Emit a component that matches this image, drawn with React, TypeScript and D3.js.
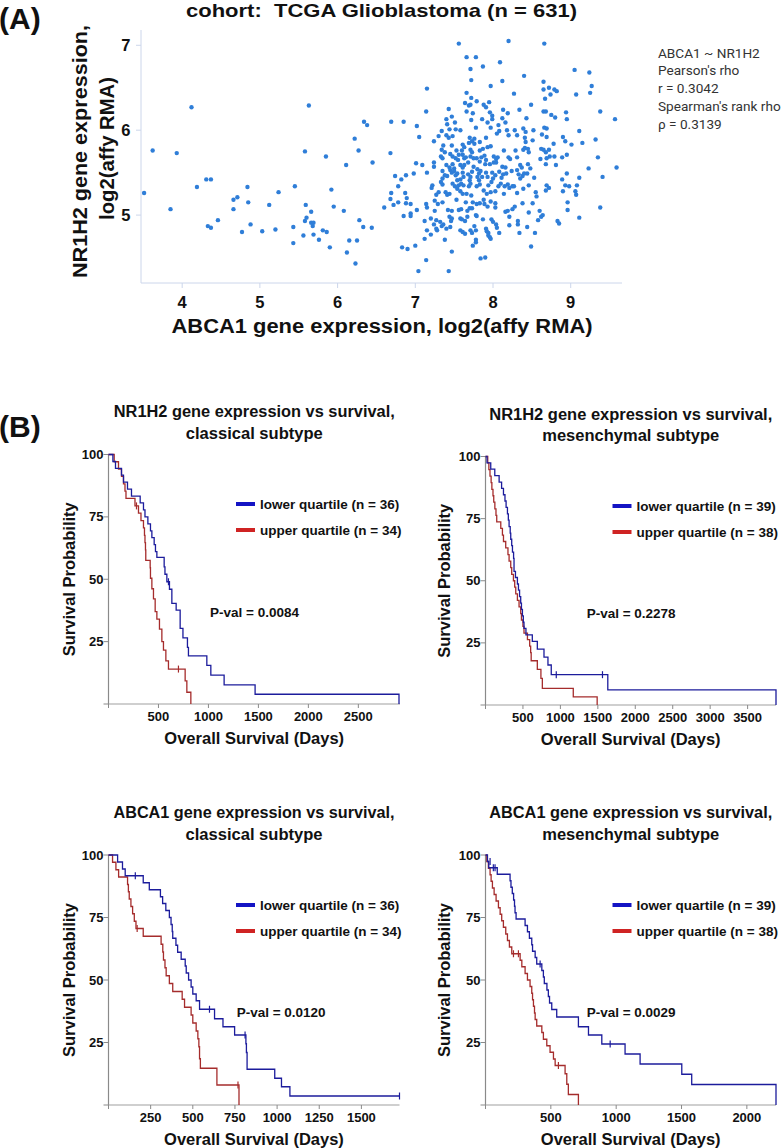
import React from 'react';
import * as d3 from 'd3';

const ARIAL = '"Liberation Sans", Arial, Helvetica, sans-serif';
const ROBOTO = 'Roboto, "Noto Sans", sans-serif';

// (A) ABCA1 (x) vs NR1H2 (y), log2(affy RMA)
const scatterPoints: [number, number][] = [
  [3.51, 5.26], [3.62, 5.76], [3.85, 5.07], [3.93, 5.73], [4.12, 6.27], [4.19, 5.33], [4.31, 5.42], [4.37, 5.42],
  [4.33, 4.87], [4.37, 4.85], [4.46, 4.94], [4.66, 5.18], [4.71, 5.21], [4.66, 5.07], [4.84, 5.33], [4.85, 5.15],
  [4.88, 4.89], [4.77, 4.8], [5.03, 4.81], [5.12, 5.12], [5.2, 4.83], [5.24, 5.27], [5.45, 5.34], [5.43, 4.86],
  [5.43, 4.67], [5.56, 4.76], [5.58, 5.75], [5.63, 6.29], [5.59, 5.12], [5.6, 4.97], [5.58, 4.93], [5.66, 5.04],
  [5.66, 4.91], [5.69, 4.91], [5.68, 4.87], [5.69, 4.77], [5.76, 4.71], [5.81, 4.82], [5.86, 4.8], [5.85, 5.69],
  [5.92, 5.3], [5.9, 4.62], [5.95, 5.1], [6.08, 5.05], [6.11, 5.59], [6.15, 4.7], [6.12, 4.56], [6.22, 5.9],
  [6.23, 4.43], [6.25, 4.7], [6.27, 5.76], [6.28, 4.94], [6.34, 6.1], [6.38, 6.06], [6.33, 4.86], [6.44, 4.85],
  [6.45, 5.62], [6.69, 6.1], [6.6, 5.09], [6.68, 5.73], [6.69, 5.26], [6.68, 5.19], [6.72, 5.12], [6.74, 5.46],
  [6.78, 5.34], [6.78, 5.15],
  [7.56, 7.02], [8.2, 7.05], [8.66, 7.02], [7.66, 6.86], [7.78, 6.86], [8.09, 6.8], [7.71, 6.72], [7.87, 6.75],
  [9.05, 6.71], [9.24, 6.68], [7.72, 6.59], [8.12, 6.58], [8.4, 6.64], [7.15, 6.49], [7.97, 6.52], [8.65, 6.57],
  [9.27, 6.52], [7.66, 6.44], [8.65, 6.48], [8.72, 6.5], [8.79, 6.48], [8.82, 6.46], [8.74, 6.42], [8.27, 6.43],
  [9.07, 6.42], [9.25, 6.44], [7.72, 6.38], [7.79, 6.34], [7.64, 6.32], [7.69, 6.29], [7.71, 6.3], [7.88, 6.3],
  [7.91, 6.27], [7.95, 6.33], [8.67, 6.37], [7.43, 6.25], [7.14, 6.22], [7.66, 6.22], [7.74, 6.2], [7.47, 6.16],
  [7.96, 6.21], [7.99, 6.17], [8.13, 6.24], [8.19, 6.2], [8.34, 6.24], [8.49, 6.3], [8.65, 6.22], [8.68, 6.22],
  [8.75, 6.18], [8.8, 6.15], [8.94, 6.21], [9.38, 6.22], [9.57, 6.13], [8.43, 6.14], [8.12, 6.14], [7.99, 6.13],
  [7.86, 6.13], [7.72, 6.12], [7.4, 6.13], [8.95, 6.13],
  [6.85, 6.1], [7.51, 6.09], [7.93, 6.09], [8.16, 6.09], [7.02, 6.05], [7.41, 6.07], [7.44, 6.01], [7.52, 6.01],
  [7.58, 6.0], [7.78, 6.03], [7.97, 6.03], [8.07, 6.06], [8.18, 6.0], [8.28, 6.0], [8.39, 6.02], [8.42, 5.98],
  [8.52, 6.0], [8.66, 6.03], [8.69, 6.02], [9.11, 5.99], [7.05, 5.92], [7.34, 5.99], [7.4, 5.94], [7.43, 5.91],
  [7.3, 5.93], [7.24, 5.87], [7.48, 5.93], [7.7, 5.91], [7.73, 5.87], [7.76, 5.9], [7.76, 5.84], [7.83, 5.86],
  [7.69, 5.85], [7.91, 5.91], [8.05, 5.96], [8.08, 5.99], [8.2, 5.94], [8.31, 5.94], [8.41, 5.91], [8.42, 5.86],
  [8.51, 5.88], [8.63, 5.95], [8.69, 5.92], [8.9, 5.92], [8.93, 5.87], [9.15, 5.85], [9.32, 5.89], [8.78, 5.84],
  [9.01, 5.83], [7.47, 5.82], [7.36, 5.82], [7.61, 5.83], [7.63, 5.8], [7.34, 5.77], [7.38, 5.74], [7.53, 5.76],
  [7.6, 5.76], [7.71, 5.77], [7.73, 5.74], [7.83, 5.76], [7.87, 5.78], [7.93, 5.8], [7.97, 5.81], [8.14, 5.76],
  [8.29, 5.76], [8.39, 5.77], [8.41, 5.79], [8.45, 5.78], [8.46, 5.74], [8.62, 5.78], [8.65, 5.77], [8.68, 5.74],
  [8.72, 5.77], [7.33, 5.69], [7.35, 5.67], [7.45, 5.72], [7.48, 5.69], [7.52, 5.67], [7.56, 5.71], [7.55, 5.65],
  [7.61, 5.71], [7.63, 5.67], [7.65, 5.68], [7.71, 5.69], [7.75, 5.67], [7.79, 5.67], [7.85, 5.68], [7.89, 5.7],
  [7.91, 5.65], [8.01, 5.69], [8.04, 5.66], [8.06, 5.68], [8.04, 5.62], [8.01, 5.62], [8.2, 5.68], [8.22, 5.66],
  [8.31, 5.68], [8.61, 5.66], [8.69, 5.67], [8.73, 5.69], [8.79, 5.69], [8.89, 5.68], [8.95, 5.71], [9.35, 5.68],
  [7.01, 5.61], [7.09, 5.59], [7.24, 5.62], [7.24, 5.57], [7.4, 5.59], [7.44, 5.56], [7.48, 5.6], [7.5, 5.55],
  [7.58, 5.59], [7.61, 5.56], [7.63, 5.59], [7.68, 5.62], [7.75, 5.57], [7.83, 5.63], [7.9, 5.6], [7.96, 5.6],
  [8.12, 5.57], [8.16, 5.56], [8.35, 5.59], [8.37, 5.56], [8.45, 5.6], [8.48, 5.55], [8.68, 5.6], [8.81, 5.59],
  [9.23, 5.55], [9.59, 5.56], [6.82, 5.42], [6.88, 5.47], [6.98, 5.49], [7.15, 5.5], [7.35, 5.52], [7.38, 5.47],
  [7.35, 5.43], [7.41, 5.46], [7.45, 5.53], [7.47, 5.5], [7.5, 5.52], [7.52, 5.47], [7.54, 5.49], [7.61, 5.5],
  [7.62, 5.45], [7.58, 5.42], [7.68, 5.48], [7.71, 5.45], [7.73, 5.51], [7.7, 5.41], [7.8, 5.54], [7.82, 5.49],
  [7.8, 5.45], [7.84, 5.52], [7.86, 5.45], [7.82, 5.41], [7.91, 5.5], [7.93, 5.45], [7.99, 5.5], [8.03, 5.47],
  [8.0, 5.43], [8.08, 5.51], [8.13, 5.48], [8.17, 5.49], [8.11, 5.44], [8.24, 5.52], [8.31, 5.53], [8.33, 5.48],
  [8.35, 5.43], [8.38, 5.46], [8.4, 5.49], [8.44, 5.49], [8.53, 5.44], [8.89, 5.42], [8.95, 5.49], [9.11, 5.44],
  [9.41, 5.45], [7.22, 5.35], [7.21, 5.32], [7.33, 5.39], [7.35, 5.36], [7.48, 5.37], [7.51, 5.34], [7.54, 5.41],
  [7.56, 5.35], [7.59, 5.37], [7.62, 5.35], [7.69, 5.34], [7.71, 5.37], [7.79, 5.34], [7.83, 5.36], [7.94, 5.35],
  [7.98, 5.39], [8.07, 5.34], [8.1, 5.37], [8.15, 5.34], [8.19, 5.36], [8.21, 5.32], [8.25, 5.34], [8.27, 5.34],
  [8.46, 5.35], [8.69, 5.35], [8.72, 5.32], [8.68, 5.29], [8.93, 5.35], [8.98, 5.34], [9.08, 5.35], [6.87, 5.26],
  [6.89, 5.2], [7.27, 5.24], [7.3, 5.27], [7.39, 5.27], [7.41, 5.24], [7.44, 5.25], [7.54, 5.31], [7.58, 5.28],
  [7.61, 5.25], [7.66, 5.25], [7.72, 5.23], [7.88, 5.29], [7.92, 5.25], [7.97, 5.27], [8.03, 5.28], [8.14, 5.25],
  [8.31, 5.26], [8.39, 5.31], [8.55, 5.27], [8.56, 5.22], [8.9, 5.28], [9.06, 5.28], [9.07, 5.24],
  [6.88, 5.14], [6.94, 5.13], [6.85, 4.99], [6.94, 5.02], [6.94, 4.99], [7.02, 5.06], [7.14, 5.13], [7.15, 5.09],
  [7.25, 5.17], [7.29, 5.13], [7.35, 5.15], [7.25, 5.05], [7.42, 5.06], [7.47, 5.05], [7.53, 5.18], [7.56, 5.06],
  [7.59, 5.07], [7.65, 5.15], [7.67, 5.05], [7.7, 5.08], [7.74, 5.15], [7.79, 5.13], [7.83, 5.14], [7.88, 5.18],
  [7.89, 5.13], [7.73, 5.08], [7.78, 5.0], [7.93, 5.1], [7.97, 5.16], [8.03, 5.14], [8.03, 5.09], [8.16, 5.04],
  [8.19, 5.05], [8.21, 4.98], [8.25, 5.07], [8.28, 5.1], [8.38, 5.14], [8.51, 5.14], [8.46, 5.03], [8.6, 5.05],
  [8.64, 5.0], [8.62, 4.98], [8.96, 5.15], [8.96, 5.06], [9.38, 5.09], [7.12, 4.93], [7.15, 4.82], [7.24, 4.89],
  [7.2, 4.96], [7.27, 4.94], [7.32, 4.92], [7.36, 4.89], [7.2, 4.77], [7.27, 4.84], [7.28, 4.82], [7.34, 4.87],
  [7.12, 4.72], [7.4, 4.84], [7.45, 4.86], [7.44, 4.98], [7.46, 4.93], [7.47, 4.96], [7.38, 4.71], [7.58, 4.96],
  [7.6, 4.95], [7.64, 4.93], [7.58, 4.82], [7.61, 4.8], [7.64, 4.78], [7.67, 4.98], [7.79, 4.99], [7.76, 4.87],
  [7.78, 4.82], [7.71, 4.82], [7.73, 4.79], [7.78, 4.71], [7.78, 4.68], [7.74, 4.64], [7.87, 4.95], [7.91, 4.84],
  [7.92, 4.81], [7.94, 4.79], [7.98, 4.95], [8.0, 4.92], [7.94, 4.76], [7.96, 4.74], [7.97, 4.72], [8.04, 4.89],
  [8.05, 4.85], [8.08, 4.79], [8.21, 4.88], [8.32, 4.93], [8.32, 4.89], [8.34, 4.79], [8.44, 4.86], [8.54, 4.79],
  [8.58, 4.94], [8.83, 4.93], [8.85, 4.9], [9.11, 4.97], [6.83, 4.62], [6.9, 4.6], [7.0, 4.64], [7.47, 4.57],
  [7.84, 4.49], [7.9, 4.5], [8.49, 4.63], [7.14, 4.47], [7.04, 4.34], [7.43, 4.34],
];
const scatterXTicks = [4, 5, 6, 7, 8, 9];
const scatterYTicks = [5, 6, 7];
const correlationLines = ['ABCA1 ~ NR1H2', "Pearson's rho", 'r = 0.3042', "Spearman's rank rho", 'ρ = 0.3139'];

// (B) Kaplan-Meier steps: [days, survival %] after each event
type Step = [number, number];

const nr1h2ClassicalLower: Step[] = [
  [0, 100], [44, 97.2], [70, 94.4], [130, 91.7], [150, 88.9], [190, 86.1], [230, 83.3], [317, 80.6], [350, 77.8],
  [365, 75], [394, 72.2], [420, 69.4], [434, 66.7], [457, 63.9], [470, 61.1], [484, 58.8], [557, 55], [565, 52],
  [584, 49], [610, 46], [634, 40.3], [677, 37.6], [717, 30.3], [745, 26.5], [790, 22.7], [800, 19.3], [984, 15.5],
  [1024, 11.6], [1157, 7.7], [1467, 3.9], [2907, 0],
];
const nr1h2ClassicalLowerCensor: Step[] = [[600, 49]];
const nr1h2ClassicalUpper: Step[] = [
  [0, 100], [57, 97.1], [100, 94.1], [130, 91.2], [150, 88.2], [165, 85.3], [175, 82.4], [265, 79.4], [300, 76.5],
  [325, 73.5], [350, 70.6], [360, 67.6], [365, 64.7], [370, 61.8], [373, 57.6], [417, 54.6], [420, 50.4],
  [434, 46.2], [450, 42.1], [467, 37], [484, 34], [510, 30], [534, 25], [550, 21.6], [574, 17.3], [600, 14],
  [767, 9.3], [784, 4.7], [824, 0],
];
const nr1h2ClassicalUpperCensor: Step[] = [[280, 79.4], [700, 14]];

const nr1h2MesLower: Step[] = [
  [0, 100], [20, 97.4], [70, 94.9], [124, 92.3], [182, 89.7], [215, 87.2], [240, 84.6], [260, 82.1], [275, 79.5],
  [293, 76.9], [305, 74.4], [315, 71.8], [330, 69.2], [337, 66.7], [350, 64.1], [360, 61.5], [375, 59], [381, 53.8],
  [400, 51.3], [426, 48.7], [440, 46.2], [455, 43.6], [470, 41], [480, 38.5], [493, 35.9], [505, 33.3], [514, 30.8],
  [540, 28.2], [625, 25.6], [692, 22.5], [781, 19.3], [834, 16.1], [878, 12.2], [1633, 6.1], [3879, 0],
];
const nr1h2MesLowerCensor: Step[] = [[945, 12.2], [1562, 12.2]];
const nr1h2MesUpper: Step[] = [
  [0, 100], [30, 97.4], [45, 94.7], [60, 92.1], [75, 89.5], [85, 86.8], [100, 84.2], [110, 81.6], [125, 78.9],
  [140, 76.3], [150, 73.7], [204, 71.1], [226, 68.4], [240, 65.8], [270, 63.2], [300, 60.5], [315, 57.9],
  [337, 55.3], [350, 52.6], [373, 50], [390, 47.4], [404, 44.7], [426, 42.1], [448, 39.5], [470, 36.8], [480, 34.2],
  [500, 31.6], [514, 28.9], [560, 26.3], [590, 23.7], [603, 21.1], [610, 17.8], [692, 14.3], [740, 10.7],
  [759, 6.7], [1172, 3.3], [1491, 0],
];
const nr1h2MesUpperCensor: Step[] = [];

const abca1ClassicalLower: Step[] = [
  [0, 100], [54, 97.2], [83, 94.4], [99, 91.7], [206, 88.9], [242, 86.1], [308, 83.3], [321, 80.6], [340, 77.8],
  [361, 75], [371, 72.2], [378, 69.4], [381, 66.7], [400, 63.9], [410, 61.1], [431, 58.3], [455, 55.6], [461, 52.8],
  [475, 50], [490, 47.2], [500, 44.4], [520, 41.7], [540, 38.3], [629, 34.5], [679, 31.3], [748, 28], [815, 24.5],
  [818, 21], [822, 14.3], [986, 10.7], [1026, 7.3], [1076, 3.6], [1726, 3.6],
];
const abca1ClassicalLowerCensor: Step[] = [[159, 91.7], [599, 38.3], [810, 28], [1726, 3.6]];
const abca1ClassicalUpper: Step[] = [
  [0, 100], [24, 97.1], [44, 94.1], [60, 91.2], [113, 88.2], [118, 85.3], [123, 82.4], [133, 79.4], [143, 76.5],
  [153, 73.5], [163, 70.6], [206, 67.5], [312, 64.3], [322, 61.2], [326, 58], [335, 54.9], [342, 51.7], [361, 48.6],
  [381, 45.4], [437, 42.3], [451, 39.1], [490, 36], [500, 32.8], [520, 29.6], [530, 26.5], [536, 23.3], [540, 18.5],
  [545, 14.7], [643, 8], [774, 0],
];
const abca1ClassicalUpperCensor: Step[] = [[170, 70.6], [768, 8]];

const abca1MesLower: Step[] = [
  [0, 100], [15, 97.4], [25, 94.9], [90, 92.3], [188, 89.7], [195, 87.1], [205, 84.6], [215, 82], [222, 79.5],
  [226, 76.9], [234, 74.4], [303, 71.8], [321, 69.3], [336, 66.7], [354, 64.1], [360, 61.5], [380, 59], [392, 56.4],
  [431, 53.8], [443, 51.2], [450, 48.6], [470, 46], [481, 43.4], [490, 40.8], [507, 38.2], [545, 35.2], [711, 31.3],
  [788, 28], [890, 24.4], [1068, 20.4], [1183, 16.4], [1502, 12.3], [1578, 8.2], [2223, 0],
];
const abca1MesLowerCensor: Step[] = [[35, 97.4], [60, 94.9], [73, 94.9], [418, 56.4], [954, 24.4]];
const abca1MesUpper: Step[] = [
  [0, 100], [10, 97.4], [22, 94.7], [35, 92.1], [43, 89.5], [53, 86.8], [66, 84.2], [81, 81.6], [99, 78.9],
  [112, 76.3], [124, 73.7], [137, 71.1], [155, 68.4], [168, 65.8], [183, 63.2], [201, 60.5], [265, 57.9],
  [278, 55.3], [303, 52.6], [321, 50], [341, 47.4], [354, 44.7], [360, 42.1], [367, 39.5], [375, 36.8], [380, 34.2],
  [392, 31.6], [431, 29], [443, 26.3], [469, 23.7], [494, 21.1], [520, 18.4], [533, 15.8], [609, 12.5], [622, 8.3],
  [634, 4.2], [711, 0],
];
const abca1MesUpperCensor: Step[] = [[214, 60.5], [252, 60.5], [558, 15.8]];

const survivalTicks = [0, 25, 50, 75, 100];

const BLUE = '#1c1c9c';
const RED = '#a52c2c';
const BLUE_KEY = '#1414c4';
const RED_KEY = '#cf2323';

interface PanelCfg {
  left: number; right: number; top: number; bottom: number;
  maxDays: number; xTicks: number[];
  title: [string, string]; titleW: [number, number]; titleY: number;
  legendY: number; legendX: number; nLower: number; nUpper: number;
  pval: string; pvalX: number; pvalY: number; ylabX: number;
  lower: Step[]; upper: Step[]; lowerCensor: Step[]; upperCensor: Step[];
}

const panels: PanelCfg[] = [
  {
    left: 108.5, right: 400, top: 454.5, bottom: 704, maxDays: 2917, xTicks: [500, 1000, 1500, 2000, 2500],
    title: ['NR1H2 gene expression vs survival,', 'classical subtype'], titleW: [281, 137], titleY: 417,
    legendX: 236, legendY: 504, nLower: 36, nUpper: 34, pval: 'P-val = 0.0084', pvalX: 210, pvalY: 616.5, ylabX: 75,
    lower: nr1h2ClassicalLower, upper: nr1h2ClassicalUpper,
    lowerCensor: nr1h2ClassicalLowerCensor, upperCensor: nr1h2ClassicalUpperCensor,
  },
  {
    left: 485.5, right: 776, top: 456.5, bottom: 705, maxDays: 3879,
    xTicks: [500, 1000, 1500, 2000, 2500, 3000, 3500],
    title: ['NR1H2 gene expression vs survival,', 'mesenchymal subtype'], titleW: [283, 177], titleY: 419.5,
    legendX: 612.5, legendY: 506, nLower: 39, nUpper: 38, pval: 'P-val = 0.2278', pvalX: 586.7, pvalY: 618, ylabX: 450,
    lower: nr1h2MesLower, upper: nr1h2MesUpper,
    lowerCensor: nr1h2MesLowerCensor, upperCensor: nr1h2MesUpperCensor,
  },
  {
    left: 108.5, right: 399.5, top: 855, bottom: 1105, maxDays: 1726, xTicks: [250, 500, 750, 1000, 1250, 1500],
    title: ['ABCA1 gene expression vs survival,', 'classical subtype'], titleW: [281, 137], titleY: 818,
    legendX: 236, legendY: 905, nLower: 36, nUpper: 34, pval: 'P-val = 0.0120', pvalX: 236.7, pvalY: 1016.5, ylabX: 75,
    lower: abca1ClassicalLower, upper: abca1ClassicalUpper,
    lowerCensor: abca1ClassicalLowerCensor, upperCensor: abca1ClassicalUpperCensor,
  },
  {
    left: 485.5, right: 776, top: 855, bottom: 1105, maxDays: 2223, xTicks: [500, 1000, 1500, 2000],
    title: ['ABCA1 gene expression vs survival,', 'mesenchymal subtype'], titleW: [283, 177], titleY: 818,
    legendX: 612.5, legendY: 905, nLower: 39, nUpper: 38, pval: 'P-val = 0.0029', pvalX: 586.7, pvalY: 1016.5, ylabX: 450,
    lower: abca1MesLower, upper: abca1MesUpper,
    lowerCensor: abca1MesLowerCensor, upperCensor: abca1MesUpperCensor,
  },
];

function KMPanel({ p }: { p: PanelCfg }) {
  const x = d3.scaleLinear().domain([0, p.maxDays]).range([p.left, p.right]);
  const y = d3.scaleLinear().domain([0, 100]).range([p.bottom, p.top]);
  const line = d3.line<Step>().x(d => x(d[0])).y(d => y(d[1])).curve(d3.curveStepAfter);
  const cx = (p.left + p.right) / 2;
  const cy = (p.top + p.bottom) / 2;
  const axisColor = '#8a8a8a';

  return (
    <g fontFamily={ARIAL} fontWeight="bold" fill="#111">
      <text x={cx} y={p.titleY} textAnchor="middle" fontSize={16} textLength={p.titleW[0]} lengthAdjust="spacingAndGlyphs">
        {p.title[0]}
      </text>
      <text x={cx} y={p.titleY + 21.5} textAnchor="middle" fontSize={16} textLength={p.titleW[1]} lengthAdjust="spacingAndGlyphs">
        {p.title[1]}
      </text>

      {/* axes */}
      <line x1={p.left} x2={p.left} y1={y(100)} y2={y(0)} stroke={axisColor} strokeWidth={1.2} />
      <line x1={p.left} x2={p.right} y1={y(0)} y2={y(0)} stroke="#a0a0a0" strokeWidth={1.2} />
      {survivalTicks.map(t => (
        <g key={'y' + t}>
          <line x1={p.left - 5} x2={p.left} y1={y(t)} y2={y(t)} stroke={axisColor} />
          {t > 0 && (
            <text x={p.left - 5} y={y(t) + 4.5} textAnchor="end" fontSize={13}>{t}</text>
          )}
        </g>
      ))}
      {[0, ...p.xTicks].map(t => (
        <g key={'x' + t}>
          <line x1={x(t)} x2={x(t)} y1={y(0)} y2={y(0) + 4} stroke={axisColor} />
          {t > 0 && (
            <text x={x(t)} y={y(0) + 16.5} textAnchor="middle" fontSize={13}>{t}</text>
          )}
        </g>
      ))}
      <text x={cx} y={p.bottom + 40} textAnchor="middle" fontSize={16.5}>Overall Survival (Days)</text>
      <text transform={`translate(${p.ylabX},${cy}) rotate(-90)`} textAnchor="middle" fontSize={16.5}>
        Survival Probability
      </text>

      {/* curves */}
      <path d={line(p.upper) || ''} fill="none" stroke={RED} strokeWidth={1.3} />
      <path d={line(p.lower) || ''} fill="none" stroke={BLUE} strokeWidth={1.3} />
      {p.upperCensor.map((c, i) => (
        <line key={'uc' + i} x1={x(c[0])} x2={x(c[0])} y1={y(c[1]) - 3.5} y2={y(c[1]) + 3.5} stroke={RED} strokeWidth={1.2} />
      ))}
      {p.lowerCensor.map((c, i) => (
        <line key={'lc' + i} x1={x(c[0])} x2={x(c[0])} y1={y(c[1]) - 3.5} y2={y(c[1]) + 3.5} stroke={BLUE} strokeWidth={1.2} />
      ))}

      {/* legend */}
      <line x1={p.legendX} x2={p.legendX + 19} y1={p.legendY} y2={p.legendY} stroke={BLUE_KEY} strokeWidth={4} />
      <text x={p.legendX + 24} y={p.legendY + 4.8} fontSize={13.5}>{`lower quartile (n = ${p.nLower})`}</text>
      <line x1={p.legendX} x2={p.legendX + 19} y1={p.legendY + 26} y2={p.legendY + 26} stroke={RED_KEY} strokeWidth={4} />
      <text x={p.legendX + 24} y={p.legendY + 30.8} fontSize={13.5}>{`upper quartile (n = ${p.nUpper})`}</text>

      <text x={p.pvalX} y={p.pvalY} fontSize={13.5}>{p.pval}</text>
    </g>
  );
}

function Scatter() {
  const sx = d3.scaleLinear().domain([3.47, 9.66]).range([141, 622]);
  const sy = d3.scaleLinear().domain([4.2, 7.18]).range([283, 30]);
  const axis = '#ccd6eb';
  return (
    <g>
      <g fontFamily={ARIAL} fontWeight="bold" fill="#111">
        <text x={381.5} y={17} textAnchor="middle" fontSize={19} textLength={391} lengthAdjust="spacingAndGlyphs"
          style={{ whiteSpace: 'pre' }}>
          {'cohort:  TCGA Glioblastoma (n = 631)'}
        </text>
        <text x={382} y={333} textAnchor="middle" fontSize={20} textLength={421} lengthAdjust="spacingAndGlyphs">
          ABCA1 gene expression, log2(affy RMA)
        </text>
        <text transform="translate(87,151.5) rotate(-90)" textAnchor="middle" fontSize={20} textLength={253}
          lengthAdjust="spacingAndGlyphs">NR1H2 gene expression,</text>
        <text transform="translate(113.5,148.5) rotate(-90)" textAnchor="middle" fontSize={20} textLength={143}
          lengthAdjust="spacingAndGlyphs">log2(affy RMA)</text>
        {scatterXTicks.map(t => (
          <text key={'sx' + t} x={sx(t)} y={307.5} textAnchor="middle" fontSize={16.5}>{t}</text>
        ))}
        {scatterYTicks.map(t => (
          <text key={'sy' + t} x={130.5} y={sy(t) + 5.8} textAnchor="end" fontSize={16.5}>{t}</text>
        ))}
      </g>
      <line x1={141} x2={141} y1={30} y2={283} stroke={axis} />
      <line x1={141} x2={622} y1={283} y2={283} stroke={axis} />
      {scatterXTicks.map(t => (
        <line key={'tx' + t} x1={sx(t)} x2={sx(t)} y1={283} y2={288} stroke={axis} />
      ))}
      {scatterYTicks.map(t => (
        <line key={'ty' + t} x1={136} x2={141} y1={sy(t)} y2={sy(t)} stroke={axis} />
      ))}
      {scatterPoints.map((d, i) => (
        <circle key={i} cx={sx(d[0])} cy={sy(d[1])} r={2.2} fill="#2f7ed8" />
      ))}
      <g fontFamily={ROBOTO} fontSize={13.6} fill="#333">
        {correlationLines.map((s, i) => (
          <text key={s} x={658} y={57.5 + i * 17.9}>{s}</text>
        ))}
      </g>
    </g>
  );
}

export default function App() {
  return (
    <div style={{ position: 'absolute', left: 0, top: 0 }}>
      <svg width={783} height={1148} style={{ display: 'block', background: '#fff' }}>
        <text x={-1} y={28.5} fontFamily={ARIAL} fontWeight="bold" fontSize={30} fill="#111">(A)</text>
        <text x={-1} y={436.5} fontFamily={ARIAL} fontWeight="bold" fontSize={30} fill="#111">(B)</text>
        <Scatter />
        {panels.map((p, i) => <KMPanel key={i} p={p} />)}
      </svg>
    </div>
  );
}
